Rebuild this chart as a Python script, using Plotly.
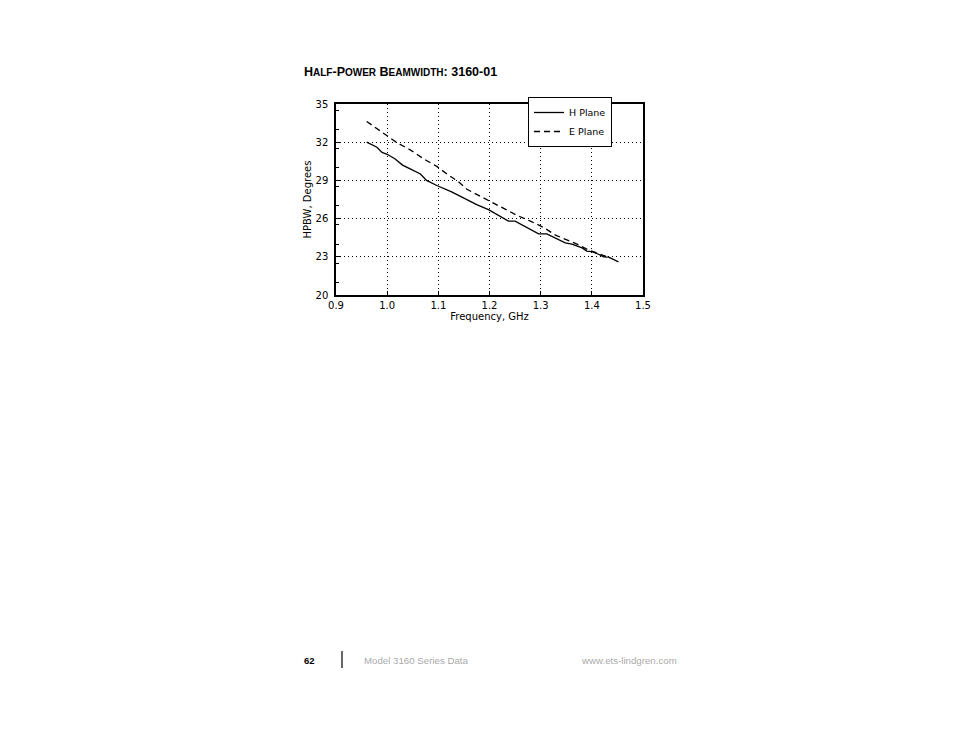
import plotly.graph_objects as go

# Data
h_freq = [0.96, 0.98, 0.99, 1.00, 1.015, 1.03, 1.045, 1.065, 1.077, 1.097, 1.126, 1.149,
          1.175, 1.198, 1.221, 1.237, 1.25, 1.273, 1.296, 1.312, 1.332, 1.348, 1.361,
          1.381, 1.39, 1.40, 1.413, 1.423, 1.433, 1.452]
h_hpbw = [32.0, 31.6, 31.2, 31.05, 30.7, 30.2, 29.9, 29.5, 29.0, 28.6, 28.1, 27.6,
          27.1, 26.7, 26.2, 25.8, 25.8, 25.3, 24.8, 24.8, 24.4, 24.1, 24.0,
          23.7, 23.45, 23.4, 23.2, 23.0, 22.97, 22.6]

e_freq = [0.96, 0.98, 1.00, 1.019, 1.045, 1.071, 1.097, 1.117, 1.139, 1.156, 1.175, 1.201,
          1.227, 1.254, 1.28, 1.306, 1.329, 1.351, 1.371, 1.39, 1.41, 1.426, 1.436]
e_hpbw = [33.63, 33.1, 32.5, 31.97, 31.4, 30.7, 30.1, 29.5, 28.9, 28.3, 27.9, 27.4,
          26.85, 26.25, 25.8, 25.3, 24.7, 24.35, 24.0, 23.6, 23.3, 23.1, 22.9]

x_ticks = [0.9, 1.0, 1.1, 1.2, 1.3, 1.4, 1.5]
x_labels = ["0.9", "1.0", "1.1", "1.2", "1.3", "1.4", "1.5"]
y_ticks = [20, 23, 26, 29, 32, 35]

FONT = "DejaVu Sans"

fig = go.Figure()
fig.add_trace(go.Scatter(x=h_freq, y=h_hpbw, mode="lines", name="H Plane",
                         line=dict(color="black", width=1.3, dash="solid")))
fig.add_trace(go.Scatter(x=e_freq, y=e_hpbw, mode="lines", name="E Plane",
                         line=dict(color="black", width=1.3, dash="6px,4px")))

OFF = 8  # page offset in the rendered view
W, H = 954, 738
L, R, T, B = 336, 643, 104, 295

fig.update_layout(
    width=W, height=H,
    margin=dict(l=L - OFF, r=W - R + OFF, t=T - OFF, b=H - B + OFF, pad=0),
    paper_bgcolor="white", plot_bgcolor="white",
    font=dict(family=FONT, color="black", size=10),
    showlegend=True,
    legend=dict(x=(528 - L) / (R - L), y=(B - 97) / (B - T), xanchor="left", yanchor="top",
                bgcolor="white", bordercolor="black", borderwidth=1,
                font=dict(size=9.5, family=FONT), itemwidth=30,
                tracegroupgap=0, traceorder="normal"),
    xaxis=dict(range=[0.9, 1.5], tickvals=x_ticks, ticktext=x_labels,
               showline=True, linecolor="black", linewidth=1.5, mirror=True,
               ticks="inside", ticklen=4, tickcolor="black",
               showgrid=True, gridcolor="black", griddash="1px,3px", gridwidth=1,
               zeroline=False, tickfont=dict(size=10),
               title=dict(text="Frequency, GHz", font=dict(size=10), standoff=0)),
    yaxis=dict(range=[20, 35], tickvals=y_ticks,
               showline=True, linecolor="black", linewidth=1.5, mirror=True,
               ticks="inside", ticklen=4, tickcolor="black", ticklabelstandoff=4,
               minor=dict(dtick=1.5, ticks="inside", ticklen=3, tickcolor="black", showgrid=False),
               showgrid=True, gridcolor="black", griddash="1px,3px", gridwidth=1,
               zeroline=False, tickfont=dict(size=10),
               title=dict(text="HPBW, Degrees", font=dict(size=10), standoff=2)),
)


def px(xp):
    return (xp - L) / (R - L)


def py(yp):
    return (B - yp) / (B - T)


# Page title (small caps)
fig.add_annotation(
    text="<b>H<span style='font-size:10px'>ALF</span>-P<span style='font-size:10px'>OWER</span> "
         "B<span style='font-size:10px'>EAMWIDTH</span>: 3160-01</b>",
    xref="paper", yref="paper", x=px(302), y=py(72),
    xanchor="left", yanchor="middle", showarrow=False,
    font=dict(family="Liberation Sans", size=12.5, color="black"))

# Footer
fig.add_annotation(text="<b>62</b>", xref="paper", yref="paper", x=px(302), y=py(660),
                   xanchor="left", yanchor="middle", showarrow=False,
                   font=dict(family="Liberation Sans", size=9.5, color="black"))
fig.add_shape(type="line", xref="paper", yref="paper", x0=px(342), x1=px(342),
              y0=py(651), y1=py(668), line=dict(color="black", width=1.2))
fig.add_annotation(text="Model 3160 Series Data", xref="paper", yref="paper", x=px(362), y=py(660),
                   xanchor="left", yanchor="middle", showarrow=False,
                   font=dict(family="Liberation Sans", size=9.7, color="#aaaaaa"))
fig.add_annotation(text="www.ets-lindgren.com", xref="paper", yref="paper", x=px(679), y=py(660),
                   xanchor="right", yanchor="middle", showarrow=False,
                   font=dict(family="Liberation Sans", size=9.7, color="#aaaaaa"))

fig.write_html("out.html")
